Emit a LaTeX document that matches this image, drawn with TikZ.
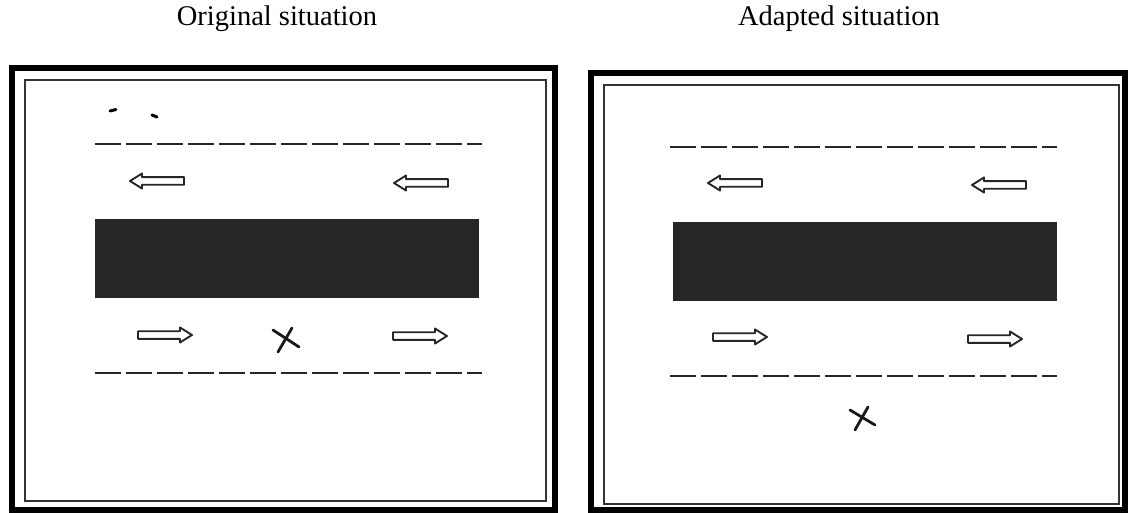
\documentclass[tikz,border=0pt]{standalone}
\usepackage{fontspec}
\setmainfont{Liberation Serif}
\begin{document}
\begin{tikzpicture}[x=1pt,y=-1pt,
  outerframe/.style={line width=5.5pt, draw=black},
  innerframe/.style={line width=1.8pt, draw=black!80},
  lane/.style={line width=2.6pt, draw=black!85, dash pattern=on 26pt off 5pt},
  island/.style={fill={rgb,255:red,38;green,38;blue,38}, draw=none},
  crossmark/.style={line width=2.8pt, draw=black!90, line cap=round},
  arrowline/.style={line width=1.9pt, draw=black!85, fill=white, line join=round},
  rarrow/.pic={\path[arrowline] (-27,-3.8) -- (15,-3.8) -- (15,-7.5) -- (27,0)
                 -- (15,7.5) -- (15,3.8) -- (-27,3.8) -- cycle;},
  larrow/.pic={\path[arrowline] (27,-3.8) -- (-15,-3.8) -- (-15,-7.5) -- (-27,0)
                 -- (-15,7.5) -- (-15,3.8) -- (27,3.8) -- cycle;},
  title/.style={font=\fontsize{28.5}{32}\selectfont, anchor=base}
]
\useasboundingbox (0,0) rectangle (1128,513);

% titles
\node[title] (t1) at (277,26) {Original situation};
\node[title] (t2) at (839,26) {Adapted situation};

% ---------- left panel ----------
\draw[outerframe] (12,68) rectangle (555,510);
\draw[innerframe] (25,80) rectangle (546,501);
\draw[lane] (95,144) -- (482,144);
\draw[lane] (95,373) -- (482,373);
\fill[island] (95,219) rectangle (479,298);
\pic at (157,181) {larrow};
\pic at (421,183) {larrow};
\pic at (165,335) {rarrow};
\pic at (420,336) {rarrow};
\draw[crossmark] (273,330) -- (299,347);
\draw[crossmark] (292,328) -- (278,352);
% small specks near the top
\draw[line width=3pt, line cap=round] (110,111) -- (116,109.5);
\draw[line width=3pt, line cap=round] (152,115) -- (157,117);

% ---------- right panel ----------
\draw[outerframe] (591,73) rectangle (1125,510);
\draw[innerframe] (604,85) rectangle (1119,504);
\draw[lane] (670,147) -- (1057,147);
\draw[lane] (670,376) -- (1057,376);
\fill[island] (673,222) rectangle (1057,301);
\pic at (735,183) {larrow};
\pic at (999,185) {larrow};
\pic at (740,337) {rarrow};
\pic at (995,339) {rarrow};
\draw[crossmark] (850,410) -- (875,425);
\draw[crossmark] (868,407) -- (855,430);
\end{tikzpicture}
\end{document}
